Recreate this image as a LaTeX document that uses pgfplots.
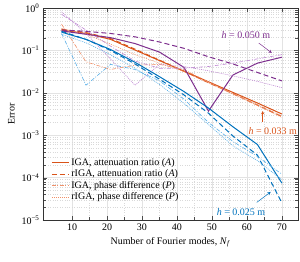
\documentclass[border=0pt]{standalone}
\usepackage{fontspec}
\setmainfont{Liberation Serif}
\usepackage{pgfplots}
\pgfplotsset{compat=1.18}
\definecolor{cblue}{RGB}{0,114,189}
\definecolor{lblue}{RGB}{90,175,230}
\definecolor{corange}{RGB}{217,83,25}
\definecolor{lorange}{RGB}{240,145,105}
\definecolor{cpurple}{RGB}{126,47,142}
\definecolor{lpurple}{RGB}{190,135,210}
\tikzset{
  mainline/.style={line width=1pt},
  lightline/.style={line width=0.6pt},
  dsh/.style={dash pattern=on 5pt off 3pt},
  dshdot/.style={dash pattern=on 4pt off 1.5pt on 1pt off 1.5pt},
  dtd/.style={dash pattern=on 1pt off 1pt},
}
\begin{document}
\begin{tikzpicture}
\begin{axis}[
  name=ax,
  scale only axis, width=255pt, height=212pt,
  ymode=log, xmin=1.7, xmax=74.6, ymin=1e-5, ymax=1,
  xtick={10,20,30,40,50,60,70},
  xticklabels={10,20,30,40,50,60,70},
  ytick={1e-5,1e-4,1e-3,1e-2,1e-1,1},
  yticklabels={10\textsuperscript{−5},10\textsuperscript{−4},10\textsuperscript{−3},10\textsuperscript{−2},10\textsuperscript{−1},10\textsuperscript{0}},
  minor x tick num=1,
  grid=both,
  major grid style={gray!22, line width=0.6pt},
  minor grid style={gray!30, dotted, line width=0.4pt},
  axis line style={black!80, line width=0.9pt},
  tick style={black!70},
  xlabel={Number of Fourier modes, \textit{N}\textsubscript{\textit{f}}},
  ylabel={Error},
  legend style={draw=none, fill=none, at={(0.02,0.31)}, anchor=north west, font=\normalsize, row sep=-1pt},
  legend cell align=left,
]
% h = 0.033 (orange), with legend
\addplot[corange, mainline] coordinates {(7,0.302) (14,0.251) (21,0.182) (28,0.102) (35,0.0575) (42,0.0324) (49,0.0182) (56,0.0102) (63,0.00575) (70,0.00316)};
\addlegendentry{IGA, attenuation ratio (\textit{A})}
\addplot[corange, mainline, dsh] coordinates {(7,0.316) (14,0.263) (21,0.191) (28,0.107) (35,0.0589) (42,0.0324) (49,0.0174) (56,0.00955) (63,0.00513) (70,0.00275)};
\addlegendentry{rIGA, attenuation ratio (\textit{A})}
\addplot[lorange, lightline, dshdot] coordinates {(7,0.417) (14,0.0537) (21,0.0355) (28,0.0447) (35,0.0468) (42,0.0355) (49,0.0178) (56,0.00955) (63,0.00525) (70,0.00282)};
\addlegendentry{IGA, phase difference (\textit{P})}
\addplot[lorange, lightline, dtd] coordinates {(7,0.331) (14,0.240) (21,0.141) (28,0.0794) (35,0.0501) (42,0.0316) (49,0.0170) (56,0.00933) (63,0.00501) (70,0.00263)};
\addlegendentry{rIGA, phase difference (\textit{P})}
% h = 0.050 (purple)
\addplot[cpurple, mainline, forget plot] coordinates {(7,0.288) (14,0.240) (21,0.200) (28,0.145) (35,0.0912) (42,0.0398) (49,0.0037) (56,0.0263) (63,0.0501) (70,0.0692)};
\addplot[cpurple, mainline, dsh, forget plot] coordinates {(7,0.302) (14,0.282) (21,0.251) (28,0.209) (35,0.158) (42,0.112) (49,0.0708) (56,0.0479) (63,0.0302) (70,0.0191)};
\addplot[lpurple, lightline, dshdot, forget plot] coordinates {(7,0.708) (14,0.302) (21,0.126) (28,0.0562) (35,0.0380) (42,0.0380) (49,0.0417) (56,0.0501) (63,0.0631) (70,0.0794)};
\addplot[lpurple, lightline, dtd, forget plot] coordinates {(7,0.813) (14,0.251) (21,0.0631) (28,0.0151) (35,0.0468) (42,0.0417) (49,0.0331) (56,0.0251) (63,0.0186) (70,0.0132)};
% h = 0.025 (blue)
\addplot[cblue, mainline, forget plot] coordinates {(7,0.269) (14,0.182) (21,0.105) (28,0.0525) (35,0.0240) (42,0.0107) (49,0.00437) (56,0.00158) (63,0.000603) (70,0.0000741)};
\addplot[cblue, mainline, dsh, forget plot] coordinates {(7,0.282) (14,0.182) (21,0.100) (28,0.0479) (35,0.0209) (42,0.00891) (49,0.00331) (56,0.000955) (63,0.000339) (70,0.0000251)};
\addplot[lblue, lightline, dshdot, forget plot] coordinates {(7,0.251) (14,0.0151) (21,0.0468) (28,0.0355) (35,0.0191) (42,0.00708) (49,0.0020) (56,0.000708) (63,0.000316) (70,0.000120)};
\addplot[lblue, lightline, dtd, forget plot] coordinates {(7,0.240) (14,0.151) (21,0.0794) (28,0.0380) (35,0.0158) (42,0.00562) (49,0.00178) (56,0.000562) (63,0.000251) (70,0.0000891)};
% annotations
\node[cpurple, font=\normalsize] at (axis cs:59.7,0.23) {\textit{h} = 0.050 m};
\draw[cpurple, -stealth, line width=0.5pt] (axis cs:63.4,0.149) -- (axis cs:67.1,0.087);
\node[corange, font=\normalsize] at (axis cs:67.4,0.00126) {\textit{h} = 0.033 m};
\draw[corange, -stealth, line width=0.5pt] (axis cs:64.5,0.00204) -- (axis cs:64.5,0.00372);
\node[cblue, font=\normalsize] at (axis cs:58.3,1.55e-5) {\textit{h} = 0.025 m};
\draw[cblue, -stealth, line width=0.5pt] (axis cs:62.8,2.6e-5) -- (axis cs:66.8,4.6e-5);
\end{axis}
\pgfresetboundingbox
\path ([xshift=-43pt,yshift=-42pt]ax.south west) rectangle ([xshift=2pt,yshift=8pt]ax.north east);
\end{tikzpicture}
\end{document}
